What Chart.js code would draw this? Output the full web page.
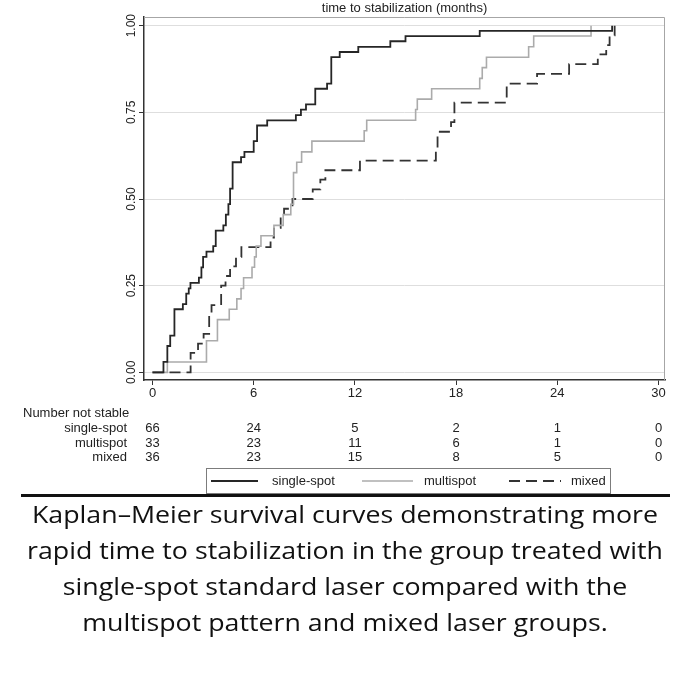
<!DOCTYPE html>
<html>
<head>
<meta charset="utf-8">
<script src="https://cdn.jsdelivr.net/npm/chart.js@4.4.1/dist/chart.umd.min.js"></script>
<style>
  html, body { margin: 0; padding: 0; background: #fff; }
  #wrap { position: relative; width: 680px; height: 680px; overflow: hidden; background: #fff; }
  #km { position: absolute; left: 0; top: 0; }
  #rule { position: absolute; left: 21px; top: 494px; width: 649px; height: 3px; background: #111; }
  #caption { position: absolute; left: 5px; top: 496px; width: 680px; text-align: center;
             font-family: "Open Sans", "Noto Sans", sans-serif; font-size: 24px; line-height: 36px; color: #111;
             transform: scaleX(1.115); transform-origin: 340px 0; }
</style>
</head>
<body>
<div id="wrap">
  <canvas id="km" width="680" height="500"></canvas>
  <div id="rule"></div>
  <div id="caption">Kaplan–Meier survival curves demonstrating more<br>rapid time to stabilization in the group treated with<br>single-spot standard laser compared with the<br>multispot pattern and mixed laser groups.</div>
</div>
<script>
// ---------- data ----------
const seriesNames = ['single-spot', 'multispot', 'mixed'];
const titleText = 'time to stabilization (months)';

const singleTimes = [0, 0.65, 0.88, 1.05, 1.3, 1.8, 2.0, 2.15, 2.25, 2.75, 2.9, 3.0, 3.2, 3.6, 3.75, 4.2, 4.35, 4.5, 4.6, 4.75, 5.25, 5.45, 6.0, 6.2, 6.8, 8.5, 8.8, 9.1, 9.65, 10.35, 10.6, 11.1, 12.2, 14.1, 15.0, 19.4, 27.25];
const singleProp  = [0, 0.030, 0.076, 0.106, 0.182, 0.197, 0.227, 0.242, 0.258, 0.273, 0.303, 0.333, 0.348, 0.364, 0.409, 0.424, 0.455, 0.485, 0.530, 0.606, 0.621, 0.636, 0.667, 0.712, 0.727, 0.742, 0.758, 0.773, 0.818, 0.833, 0.909, 0.924, 0.939, 0.955, 0.970, 0.985, 1.0];

const multiTimes = [0, 0.88, 3.2, 3.85, 4.55, 5.0, 5.25, 5.4, 5.9, 6.05, 6.15, 6.43, 7.2, 7.75, 8.2, 8.36, 8.55, 8.84, 9.45, 12.55, 12.7, 15.6, 15.7, 16.55, 19.4, 19.55, 19.8, 22.3, 22.6, 26.0];
const multiProp  = [0, 0.030, 0.091, 0.152, 0.182, 0.212, 0.242, 0.273, 0.303, 0.333, 0.364, 0.394, 0.424, 0.455, 0.485, 0.576, 0.606, 0.636, 0.667, 0.697, 0.727, 0.758, 0.788, 0.818, 0.848, 0.879, 0.909, 0.939, 0.970, 1.0];

const mixedTimes = [0, 2.26, 2.7, 3.03, 3.36, 3.5, 4.07, 4.33, 4.6, 4.95, 5.27, 7.0, 7.2, 7.6, 7.8, 8.3, 9.5, 9.95, 10.25, 12.3, 16.8, 16.9, 17.7, 17.9, 21.0, 22.8, 24.7, 26.4, 26.9, 27.1, 27.4];
const mixedProp  = [0, 0.056, 0.083, 0.111, 0.167, 0.194, 0.250, 0.278, 0.306, 0.333, 0.361, 0.389, 0.417, 0.444, 0.472, 0.500, 0.528, 0.556, 0.583, 0.611, 0.639, 0.694, 0.722, 0.778, 0.833, 0.861, 0.889, 0.917, 0.944, 0.972, 1.0];

const xTicks = [0, 6, 12, 18, 24, 30];
const yTicks = [0, 0.25, 0.5, 0.75, 1];

const riskHeader = 'Number not stable';
const riskTimes = [0, 6, 12, 18, 24, 30];
const riskSingle = [66, 24, 5, 2, 1, 0];
const riskMulti  = [33, 23, 11, 6, 1, 0];
const riskMixed  = [36, 23, 15, 8, 5, 0];

// ---------- chart ----------
const FONT = '"Liberation Sans", Arial, sans-serif';
const pts = (ts, ps) => ts.map((t, i) => ({ x: t, y: ps[i] }));

const decor = {
  id: 'decor',
  afterDraw(chart) {
    const { ctx, chartArea: a } = chart;
    const xs = chart.scales.x;
    ctx.save();
    // plot region frame (top + right)
    ctx.strokeStyle = '#a6a6a6';
    ctx.lineWidth = 1;
    ctx.beginPath();
    ctx.moveTo(a.left, a.top + 0.5);
    ctx.lineTo(a.right - 0.5, a.top + 0.5);
    ctx.lineTo(a.right - 0.5, a.bottom);
    ctx.stroke();

    // axis title (placed above the plot)
    ctx.fillStyle = '#222';
    ctx.font = '13px ' + FONT;
    ctx.textAlign = 'center';
    ctx.textBaseline = 'middle';
    ctx.fillText(titleText, (a.left + a.right) / 2, 8);

    // number-at-risk table
    ctx.font = '13px ' + FONT;
    ctx.textAlign = 'left';
    ctx.fillText(riskHeader, 23, 413);
    const rows = [riskSingle, riskMulti, riskMixed];
    const rowY = [428, 443, 457.5];
    rows.forEach((row, i) => {
      ctx.textAlign = 'right';
      ctx.fillText(seriesNames[i], 127, rowY[i]);
      ctx.textAlign = 'center';
      riskTimes.forEach((t, j) => ctx.fillText(String(row[j]), xs.getPixelForValue(t), rowY[i]));
    });

    // legend box
    ctx.strokeStyle = '#7c7c7c';
    ctx.lineWidth = 1;
    ctx.strokeRect(206.5, 468.5, 404, 25);
    const slots = [[211, 258, 272], [362, 413, 424], [509, 561, 571]];
    chart.data.datasets.forEach((ds, i) => {
      const [x0, x1, tx] = slots[i];
      ctx.save();
      ctx.strokeStyle = ds.borderColor;
      ctx.lineWidth = ds.borderWidth;
      ctx.setLineDash(ds.borderDash || []);
      ctx.beginPath();
      ctx.moveTo(x0, 481);
      ctx.lineTo(x1, 481);
      ctx.stroke();
      ctx.restore();
      ctx.fillStyle = '#222';
      ctx.textAlign = 'left';
      ctx.fillText(ds.label, tx, 481.5);
    });
    ctx.restore();
  }
};

new Chart(document.getElementById('km'), {
  type: 'line',
  data: {
    datasets: [
      { label: seriesNames[0], data: pts(singleTimes, singleProp), borderColor: '#262626', borderWidth: 1.8, stepped: 'before', pointRadius: 0, fill: false },
      { label: seriesNames[1], data: pts(multiTimes, multiProp), borderColor: '#ababab', borderWidth: 1.6, stepped: 'before', pointRadius: 0, fill: false },
      { label: seriesNames[2], data: pts(mixedTimes, mixedProp), borderColor: '#333333', borderWidth: 1.8, borderDash: [11, 6], stepped: 'before', pointRadius: 0, fill: false }
    ]
  },
  options: {
    responsive: false,
    animation: false,
    devicePixelRatio: 1,
    layout: { padding: { left: 0, right: 15, top: 17, bottom: 90 } },
    plugins: { legend: { display: false }, tooltip: { enabled: false }, title: { display: false } },
    scales: {
      x: {
        type: 'linear',
        min: -0.504,
        max: 30.385,
        afterBuildTicks: s => { s.ticks = xTicks.map(v => ({ value: v })); },
        afterFit: s => { s.height = 30; },
        ticks: { autoSkip: false, maxRotation: 0, padding: 1, color: '#222', font: { family: FONT, size: 13 } },
        grid: { drawOnChartArea: false, drawTicks: true, tickLength: 5, tickColor: '#333' },
        border: { display: true, color: '#333', width: 1.5 }
      },
      y: {
        type: 'linear',
        min: -0.022,
        max: 1.025,
        afterBuildTicks: s => { s.ticks = yTicks.map(v => ({ value: v })); },
        afterFit: s => { s.width = 144; },
        ticks: { minRotation: 90, maxRotation: 90, crossAlign: 'center', padding: -4.5, color: '#222',
                 font: { family: FONT, size: 12 }, callback: v => Number(v).toFixed(2) },
        grid: { color: '#dedede', lineWidth: 1, drawTicks: true, tickLength: 5, tickColor: '#333' },
        border: { display: true, color: '#333', width: 1.5 }
      }
    }
  },
  plugins: [decor]
});
</script>
</body>
</html>
